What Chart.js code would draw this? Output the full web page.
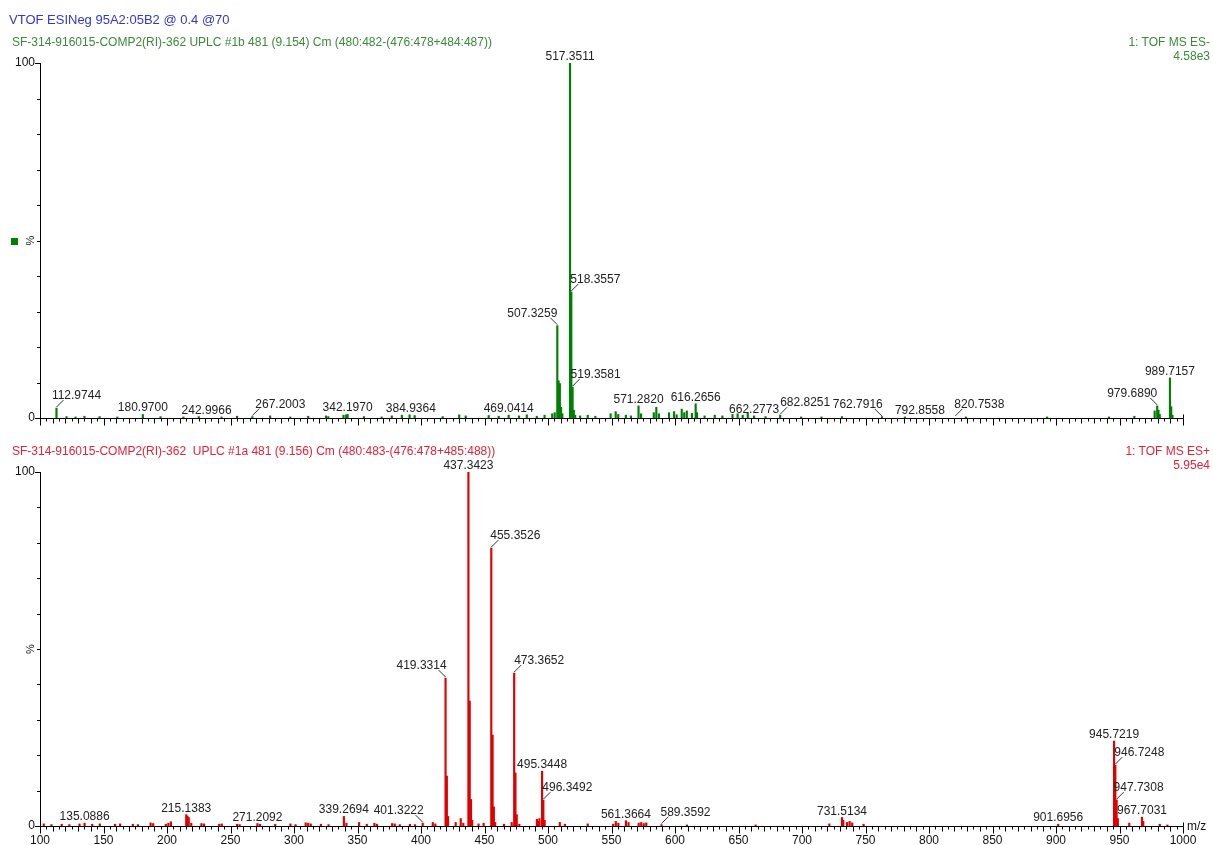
<!DOCTYPE html>
<html>
<head>
<meta charset="utf-8">
<script src="https://cdn.jsdelivr.net/npm/chart.js@4.4.1/dist/chart.umd.min.js"></script>
<style>
  body { margin: 0; background: #fff; font-family: "Liberation Sans", Arial, sans-serif; }
  #wrap { position: relative; width: 1213px; height: 845px; overflow: hidden; }
  canvas { position: absolute; left: 0; }
  .txt { position: absolute; white-space: pre; font-size: 12px; line-height: 14px; z-index: 2; }
</style>
</head>
<body>
<div id="wrap">
  <canvas id="negChart" width="1213" height="430" style="top:0;width:1213px;height:430px"></canvas>
  <canvas id="posChart" width="1213" height="415" style="top:430px;width:1213px;height:415px"></canvas>
  <div class="txt" style="left:9px;top:13px;font-size:13px;color:#3434d8">VTOF ESINeg 95A2:05B2 @ 0.4 @70</div>
  <div class="txt" style="left:12px;top:35px;color:#3a8a3a">SF-314-916015-COMP2(RI)-362 UPLC #1b 481 (9.154) Cm (480:482-(476:478+484:487))</div>
  <div class="txt" style="right:3px;top:35px;color:#3a8a3a;text-align:right">1: TOF MS ES-<br>4.58e3</div>
  <div class="txt" style="left:12px;top:444px;color:#e4223a">SF-314-916015-COMP2(RI)-362  UPLC #1a 481 (9.156) Cm (480:483-(476:478+485:488))</div>
  <div class="txt" style="right:3px;top:444px;color:#e4223a;text-align:right">1: TOF MS ES+<br>5.95e4</div>
</div>
<script>
// ---- data (m/z, % intensity) ----
const negMz = [112.97, 120.9, 128.0, 135.0, 146.9, 160.9, 180.97, 194.9, 212.9, 225.0, 242.99, 255.2, 267.20, 281.2, 297.1,
  311.2, 325.2, 327.0, 339.0, 341.1, 342.20, 355.1, 369.0, 377.0, 384.94, 391.0, 395.0, 417.1, 430.1, 435.2, 453.3, 461.2,
  469.04, 477.2, 483.3, 491.2, 497.3, 503.3, 505.3, 507.33, 508.33, 509.33, 510.3, 511.3, 517.35, 518.36, 519.36, 520.36,
  521.4, 525.3, 531.3, 537.3, 549.3, 553.3, 555.3, 561.3, 565.3, 571.28, 573.3, 583.3, 585.3, 587.3, 595.3, 599.3, 601.3,
  605.3, 607.3, 609.3, 613.3, 616.27, 617.3, 623.3, 631.3, 637.3, 645.3, 649.3, 653.3, 657.3, 662.28, 671.3, 682.83, 699.3,
  715.3, 731.5, 763.0, 781.0, 829.0, 893.0, 941.7, 961.7, 977.7, 979.69, 980.7, 981.7, 989.72, 990.72, 991.7];
const negInt = [2.8, 0.4, 0.3, 0.5, 0.4, 0.3, 1.0, 0.4, 0.3, 0.4, 0.3, 0.5, 0.4, 0.6, 0.3,
  0.5, 0.6, 0.4, 0.8, 0.9, 1.0, 0.4, 0.3, 0.6, 0.8, 0.9, 0.7, 0.4, 0.9, 0.6, 0.7, 0.5,
  0.8, 0.6, 0.9, 0.5, 0.8, 1.2, 1.5, 26, 10.5, 9.7, 3, 1.2, 100, 35.5, 8.7, 2.2,
  0.8, 0.6, 0.8, 0.5, 1.2, 1.8, 1.0, 0.8, 0.6, 3.4, 1.2, 1.5, 3.0, 1.2, 1.5, 1.8, 0.9,
  2.5, 1.5, 2.0, 1.3, 4.0, 1.5, 0.6, 0.8, 0.6, 1.0, 1.2, 0.8, 1.4, 0.6, 0.4, 0.8, 0.3,
  0.3, 0.4, 0.4, 0.3, 0.3, 0.3, 0.3, 0.5, 2.0, 3.4, 2.2, 1.0, 11.3, 3.2, 0.8];

const posMz = [103.0, 109.0, 117.1, 123.1, 131.1, 135.09, 141.1, 147.1, 159.1, 163.1, 173.1, 177.1, 187.1, 189.1, 199.1,
  201.1, 203.1, 215.14, 216.1, 217.1, 219.1, 227.1, 229.1, 241.1, 243.1, 255.2, 257.2, 271.21, 273.2, 285.2, 297.2, 301.2,
  309.2, 311.2, 313.2, 321.2, 327.2, 339.27, 341.3, 351.3, 357.3, 363.3, 365.3, 377.3, 379.3, 383.3, 391.3, 395.3, 401.32,
  409.3, 411.3, 419.33, 420.34, 421.3, 427.3, 431.3, 433.3, 437.34, 438.35, 439.35, 440.3, 445.3, 449.3, 455.35, 456.36,
  457.36, 458.4, 465.4, 471.4, 473.37, 474.37, 475.37, 477.4, 491.3, 492.3, 493.3, 495.34, 496.35, 497.35, 509.3, 513.3,
  531.3, 551.3, 553.4, 555.4, 561.37, 563.4, 571.4, 573.4, 575.4, 577.4, 589.36, 609.4, 663.5, 721.5, 731.51, 732.5, 735.5,
  737.5, 739.5, 748.5, 901.70, 945.72, 946.72, 947.73, 948.7, 957.7, 967.70, 968.7, 981.7, 987.7];
const posInt = [0.6, 0.4, 0.5, 0.4, 0.6, 0.8, 0.5, 0.6, 0.5, 0.6, 0.5, 0.4, 0.9, 0.7, 0.5,
  0.8, 1.2, 3.2, 2.8, 2.4, 0.8, 0.7, 0.6, 0.5, 0.6, 0.5, 0.4, 0.7, 0.5, 0.5, 0.6, 0.4,
  0.9, 0.8, 0.6, 0.5, 0.4, 2.7, 0.8, 1.0, 0.5, 0.8, 0.5, 0.7, 0.6, 0.4, 0.5, 0.4, 0.8,
  1.0, 0.6, 41.8, 14.1, 2.7, 1.0, 2.1, 0.8, 100, 35.3, 7.5, 1.6, 0.6, 0.8, 78.5, 25.7,
  5.4, 1.0, 0.5, 1.0, 43.2, 15, 3.2, 0.5, 1.9, 1.3, 2.1, 15.5, 7.3, 1.6, 1.0, 0.5,
  0.6, 0.5, 1.3, 0.8, 1.5, 1.0, 0.8, 1.0, 0.7, 0.9, 0.4, 0.3, 0.3, 0.6, 2.4, 1.6, 1.0,
  1.3, 0.9, 0.5, 0.5, 24, 17.2, 7.3, 2.1, 0.8, 2.5, 1.3, 0.5, 0.3];

// annotated peaks (label text is the m/z)
const negLabels = ["517.3511", "518.3557", "507.3259", "519.3581", "112.9744", "180.9700", "242.9966", "267.2003", "342.1970",
  "384.9364", "469.0414", "571.2820", "616.2656", "662.2773", "682.8251", "762.7916", "792.8558", "820.7538", "979.6890", "989.7157"];
const negLabelInt = [100, 35.5, 26, 8.7, 2.8, 1.0, 0.3, 0.4, 1.0, 0.8, 0.8, 3.4, 4.0, 0.6, 0.8, 0.3, 0.3, 0.3, 3.4, 11.3];
const posLabels = ["437.3423", "455.3526", "419.3314", "473.3652", "495.3448", "496.3492", "945.7219", "946.7248", "947.7308",
  "967.7031", "135.0886", "215.1383", "271.2092", "339.2694", "401.3222", "561.3664", "589.3592", "731.5134", "901.6956"];
const posLabelInt = [100, 78.5, 41.8, 43.2, 15.5, 7.3, 24, 17.2, 7.3, 2.5, 0.8, 3.2, 0.7, 2.7, 0.8, 1.5, 0.4, 2.4, 0.5];

// label shifts (px) sideways; shifts of 18px or more get a small leader line
const negLabelDx = [0, 24, -25, 23, 20, 0, -15, 28, 0, 9, 0, 0, 0, 0, 25, -24, 0, 24, -25, 0];
const posLabelDx = [0, 24, -24, 25, 0, 24, 0, 24, 22, 0, 0, 0, 0, 0, -24, 0, 24, 0, 0];

const xTickLabels = [100, 150, 200, 250, 300, 350, 400, 450, 500, 550, 600, 650, 700, 750, 800, 850, 900, 950, 1000];

function points(mz, inten) {
  return mz.map(function(m, i) { return {x: m, y: inten[i]}; });
}

const spectrumAxes = {
  id: 'spectrumAxes',
  afterDatasetsDraw(chart, args, opts) {
    const ctx = chart.ctx;
    const xs = chart.scales.x, ys = chart.scales.y;
    const a = chart.chartArea;
    ctx.save();
    ctx.strokeStyle = '#000';
    ctx.lineWidth = 1;
    // y axis
    ctx.beginPath();
    ctx.moveTo(a.left + 0.5, a.top);
    ctx.lineTo(a.left + 0.5, a.bottom + 0.5);
    for (let v = 0; v <= 100; v += 10) {
      const y = Math.round(ys.getPixelForValue(v)) + 0.5;
      const len = (v === 0 || v === 100) ? 5 : 3;
      ctx.moveTo(a.left - len, y);
      ctx.lineTo(a.left, y);
    }
    // x axis
    const yb = Math.round(a.bottom) + 0.5;
    ctx.moveTo(a.left, yb);
    ctx.lineTo(a.right, yb);
    for (let v = 100; v <= 1000; v += 5) {
      const x = Math.round(xs.getPixelForValue(v)) + 0.5;
      const len = v % 50 === 0 ? 7 : (v % 10 === 0 ? 5 : 3);
      ctx.moveTo(x, yb);
      ctx.lineTo(x, yb + len);
    }
    ctx.moveTo(a.right + 0.5, yb - 4);
    ctx.lineTo(a.right + 0.5, yb);
    ctx.stroke();

    ctx.fillStyle = '#111';
    ctx.font = '12px "Liberation Sans", Arial, sans-serif';
    ctx.textAlign = 'right';
    ctx.textBaseline = 'middle';
    ctx.fillText('100', a.left - 5, ys.getPixelForValue(100));
    ctx.fillText('0', a.left - 5, ys.getPixelForValue(0));
    ctx.save();
    ctx.translate(a.left - 9, ys.getPixelForValue(50));
    ctx.rotate(-Math.PI / 2);
    ctx.textAlign = 'center';
    ctx.font = '11px "Liberation Sans", Arial, sans-serif';
    ctx.fillText('%', 0, 0);
    ctx.restore();
    if (opts.marker) {
      ctx.fillStyle = opts.marker;
      ctx.fillRect(11, Math.round(ys.getPixelForValue(50)) - 3, 7, 7);
    }
    if (opts.xLabels) {
      ctx.fillStyle = '#111';
      ctx.textAlign = 'center';
      ctx.textBaseline = 'top';
      xTickLabels.forEach(function(v) {
        ctx.fillText(String(v), xs.getPixelForValue(v), yb + 8);
      });
      ctx.textAlign = 'left';
      ctx.textBaseline = 'middle';
      ctx.fillText('m/z', a.right + 4, yb);
    }

    // peak annotations
    ctx.font = '12px "Liberation Sans", Arial, sans-serif';
    ctx.fillStyle = '#222';
    ctx.strokeStyle = '#333';
    ctx.textAlign = 'center';
    ctx.textBaseline = 'alphabetic';
    opts.labels.forEach(function(t, i) {
      const px = xs.getPixelForValue(parseFloat(t));
      const top = ys.getPixelForValue(opts.labelInt[i]);
      const dx = opts.dx[i];
      if (Math.abs(dx) < 18) {
        ctx.fillText(t, px + dx, top - 3);
      } else {
        const s = dx > 0 ? 1 : -1;
        ctx.beginPath();
        ctx.moveTo(px, top - 1);
        ctx.lineTo(px + s * 7, top - 8);
        ctx.stroke();
        ctx.fillText(t, px + dx, top - 9);
      }
    });
    ctx.restore();
  }
};

function makeChart(id, data, color, padding, extra) {
  return new Chart(document.getElementById(id), {
    type: 'bar',
    data: {
      datasets: [{
        data: data,
        backgroundColor: color,
        borderWidth: 0,
        barThickness: 1.5,
        grouped: false
      }]
    },
    options: {
      responsive: false,
      animation: false,
      layout: {padding: padding},
      scales: {
        x: {type: 'linear', min: 100, max: 1000, offset: false, display: false},
        y: {min: 0, max: 100, display: false}
      },
      plugins: {
        legend: {display: false},
        tooltip: {enabled: false},
        spectrumAxes: extra
      }
    },
    plugins: [spectrumAxes]
  });
}

makeChart('negChart', points(negMz, negInt), '#008000', {left: 40, right: 30, top: 63, bottom: 12},
  {labels: negLabels, labelInt: negLabelInt, dx: negLabelDx, marker: '#008000', xLabels: false});
makeChart('posChart', points(posMz, posInt), '#e00000', {left: 40, right: 30, top: 42, bottom: 19},
  {labels: posLabels, labelInt: posLabelInt, dx: posLabelDx, marker: null, xLabels: true});
</script>
</body>
</html>
